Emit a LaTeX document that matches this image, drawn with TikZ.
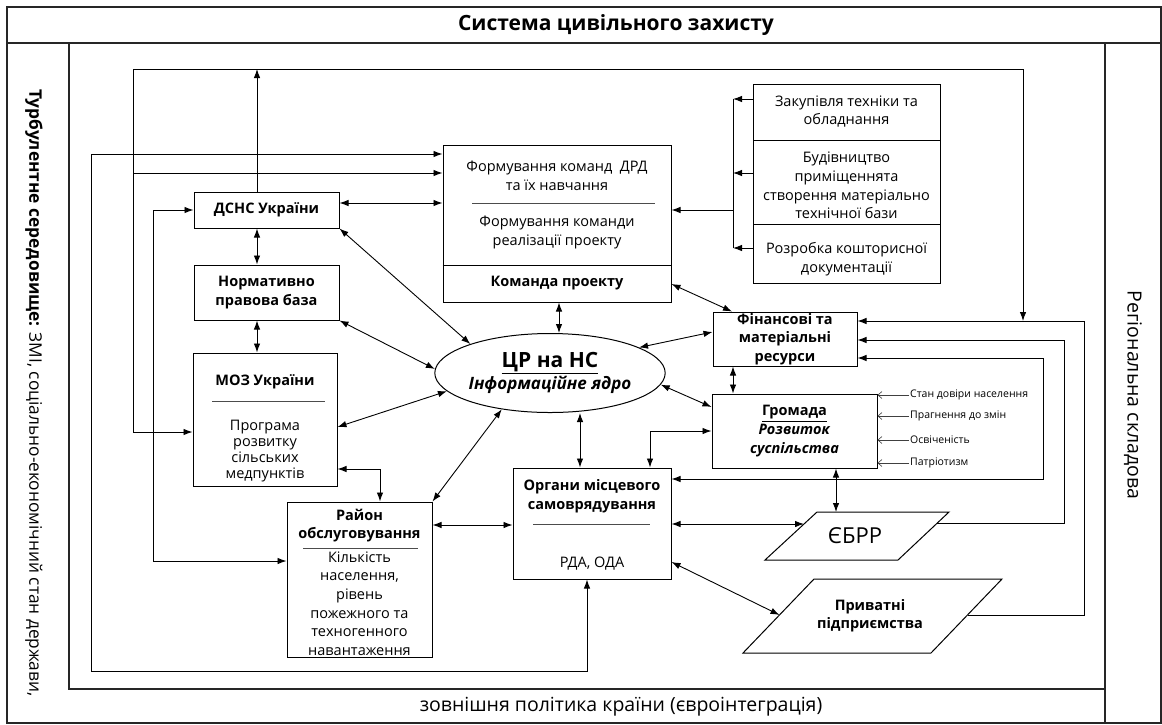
\documentclass[tikz,border=0pt]{standalone}
\usepackage{fontspec}
\setmainfont{Open Sans}
\usetikzlibrary{arrows.meta,shapes.geometric,fit,calc}

\tikzset{
  frame/.style={line width=1.1pt, black!85},
  box/.style={draw, line width=1pt, inner sep=0pt},
  sep/.style={line width=0.8pt, black!70},
  txt/.style={align=center, inner sep=0pt, font=\fontsize{14.5}{18.6}\selectfont},
  txtb/.style={align=center, inner sep=0pt, font=\fontsize{14.5}{18.6}\selectfont\bfseries},
  strip/.style={inner sep=0pt, font=\fontsize{19.5}{22}\selectfont},
  small/.style={inner sep=1pt, font=\fontsize{10.5}{12}\selectfont},
  line/.style={line width=0.9pt},
  arr/.style={line width=0.9pt, -{Latex[length=9pt,width=6.5pt]}},
  darr/.style={line width=0.9pt, {Latex[length=9pt,width=6.5pt]}-{Latex[length=9pt,width=6.5pt]}},
  barb/.style={line width=0.6pt, black!75, -{Straight Barb[length=4pt,width=7pt]}}
}

\begin{document}
\begin{tikzpicture}[x=1pt, y=-1pt]
    \useasboundingbox (0,0) rectangle (1162,724);

    % frame of the system
    \draw[frame] (7,7) rectangle (1161,723);
    \draw[frame] (7,43) -- (1161,43);
    \draw[frame] (69,43) -- (69,689) -- (1105,689);
    \draw[frame] (1105,43) -- (1105,723);
    \node[font=\fontsize{21}{24}\selectfont\bfseries] (title) at (616,25) {Система цивільного захисту};
    \node[strip, rotate=-90, font=\fontsize{17.3}{20}\selectfont] (env) at (34,393) {\textbf{Турбулентне середовище:} ЗМІ, соціально-економічний стан держави,};
    \node[strip, rotate=-90] (reg) at (1133,395) {Регіональна складова};
    \node[strip] (foreign) at (621,707) {зовнішня політика країни (євроінтеграція)};

    % project team
    \node[box, fit={(443,145) (671,302)}] (form) {};
    \draw[line] (form.west |- 0,265) -- (form.east |- 0,265);
    \draw[sep] (472,203) -- (655,203);
    \node[txt] (formA) at (557,176) {Формування команд~~ДРД\\та їх навчання};
    \node[txt] (formB) at (557,232.5) {Формування команди\\реалізації проекту};
    \node[txtb] (team) at (557,283.5) {Команда проекту};

    % material base
    \node[box, fit={(753,84) (940,140)}] (zak) {};
    \node[box, fit={(753,140) (940,224)}] (bud) {};
    \node[box, fit={(753,224) (940,283)}] (rozr) {};
    \node[txt] (zakT) at (846.5,111.5) {Закупівля техніки та\\обладнання};
    \node[txt] (budT) at (846.5,185.5) {Будівництво\\приміщеннята\\створення матеріально\\технічної бази};
    \node[txt] (rozrT) at (846.5,259) {Розробка кошторисної\\документації};

    % left column
    \node[box, fit={(194,192) (339,228)}] (dsns) {};
    \node[txtb] (dsnsT) at (dsns) {ДСНС України};
    \node[box, fit={(194,265) (339,320)}] (norm) {};
    \node[txtb] (normT) at (norm) {Нормативно\\правова база};
    \node[box, fit={(193,353) (337,486)}] (moz) {};
    \node[txtb] (mozA) at (265,382) {МОЗ України};
    \draw[sep] (212,401) -- (325,401);
    \node[txt, font=\fontsize{14.5}{16.2}\selectfont] (mozB) at (265,451) {Програма\\розвитку\\сільських\\медпунктів};

    \node[box, fit={(287,502) (432,657)}] (rayon) {};
    \node[txtb] (rayonA) at (359.5,525.5) {Район\\обслуговування};
    \draw[sep] (303,548) -- (418,548);
    \node[txt] (rayonB) at (359.5,603.5) {Кількість\\населення,\\рівень\\пожежного та\\техногенного\\навантаження};

    \node[box, fit={(513,468) (671,579)}] (organy) {};
    \node[txtb] (organyA) at (592,496.5) {Органи місцевого\\самоврядування};
    \draw[sep] (533,524) -- (650,524);
    \node[txt] (organyB) at (592,564) {РДА, ОДА};

    % core
    \node[draw, ellipse, line width=1pt, inner sep=0pt, minimum width=199pt, minimum height=79pt,
          align=center, font=\fontsize{17}{22}\selectfont\bfseries] (cr) at (550,373)
          {{\fontsize{21}{22}\selectfont\underline{ЦР на НС}}\\\textit{Інформаційне ядро}};

    % right side
    \node[box, fit={(713,312) (857,366)}] (fin) {};
    \node[txtb] (finT) at (fin) {Фінансові та\\матеріальні\\ресурси};
    \node[box, fit={(712,394) (877,468)}] (hromada) {};
    \node[txtb] (hromadaT) at (hromada) {\underline{Громада}\\\textit{Розвиток}\\\textit{суспільства}};
    \draw[line width=1pt] (817,512) coordinate (eb1) -- (949,512) coordinate (eb2)
        -- (898,560) coordinate (eb3) -- (765,560) coordinate (eb4) -- cycle;
    \node[font=\fontsize{22}{24}\selectfont] (ebrr) at (855,536) {ЄБРР};
    \draw[line width=1pt] (814,579) coordinate (pv1) -- (1002,579) coordinate (pv2)
        -- (931,653) coordinate (pv3) -- (743,653) coordinate (pv4) -- cycle;
    \node[txtb, font=\fontsize{14.5}{18}\selectfont\bfseries] (pryv) at (870,616) {Приватні\\підприємства};
    \coordinate (ebN) at (836,512);
    \coordinate (ebW) at ($(eb1)!0.25!(eb4)$);
    \coordinate (ebE) at ($(eb2)!0.23!(eb3)$);
    \coordinate (pvW) at ($(pv1)!0.486!(pv4)$);
    \coordinate (pvE) at ($(pv2)!0.486!(pv3)$);

    % society factors
    \foreach \y/\t [count=\i] in {395/Стан довіри населення, 416/Прагнення до змін, 440/Освіченість, 463/Патріотизм} {
        \node[small, anchor=west] (inp\i) at (909,\y) {\t};
        \draw[barb] (inp\i.west) -- (hromada.east |- inp\i.west);
    }

    % material base to team
    \foreach \b/\y in {zak/99, bud/173, rozr/248}
        \draw[arr] (\b.west |- 0,\y) -- (733,\y);
    \draw[line] (733,99) -- (733,248);
    \draw[arr] (733,210) -- (form.east |- 0,210);

    % outer loops
    \coordinate (tl) at (133,69);
    \coordinate (tr) at (1023,69);
    \draw[arr] (dsns.north -| 257,0) -- (257,69);
    \draw[line] (tl) -- (tr);
    \draw[arr] (tl) |- (moz.west |- 0,432);
    \draw[arr] (133,173) -- (form.west |- 0,173);
    \draw[arr] (tr) -- (1023,321);
    \draw[darr] (form.west |- 0,154) -| (91,671) -| (organy.south -| 587,0);
    \draw[darr] (dsns.west |- 0,210) -| (153,561) -- (rayon.west |- 0,561);

    % left column links
    \draw[darr] (dsns.east |- 0,203) -- (form.west |- 0,203);
    \draw[darr] (dsns.south -| 257,0) -- (norm.north -| 257,0);
    \draw[darr] (norm.south -| 257,0) -- (moz.north -| 257,0);
    \draw[darr] (moz.east |- 0,469) -| (rayon.north -| 380,0);
    \draw[darr] (rayon.east |- 0,525) -- (organy.west |- 0,525);

    % links with the core
    \draw[darr] (dsns.south east) -- (cr.160);
    \draw[darr] (norm.south east) -- (cr.178);
    \draw[darr] (moz.east |- 0,427) -- (cr.190);
    \draw[darr] (rayon.north east) -- (cr.217);
    \draw[darr] (form.south -| 559,0) -- (cr.north -| 559,0);
    \draw[darr] (cr.south -| 580,0) -- (organy.north -| 580,0);
    \draw[darr] (cr.16) -- (fin.west |- 0,332);
    \draw[darr] (cr.354) -- (hromada.west |- 0,407);

    % right side links
    \draw[darr] (form.east |- 0,284) -- (fin.north -| 732,0);
    \draw[darr] (fin.south -| 733,0) -- (hromada.north -| 733,0);
    \draw[darr] (hromada.west |- 0,431) -| (organy.north -| 650,0);
    \draw[darr] (hromada.south -| 836,0) -- (ebN);
    \draw[darr] (organy.east |- 0,524) -- (ebW);
    \draw[darr] (organy.east |- 0,562) -- (pvW);
    \draw[darr] (organy.east |- 0,479) -| (1043,358) -- (fin.east |- 0,358);
    \draw[arr] (ebE) -| (1064,340) -- (fin.east |- 0,340);
    \draw[arr] (pvE) -| (1084,321) -- (fin.east |- 0,321);
\end{tikzpicture}
\end{document}
